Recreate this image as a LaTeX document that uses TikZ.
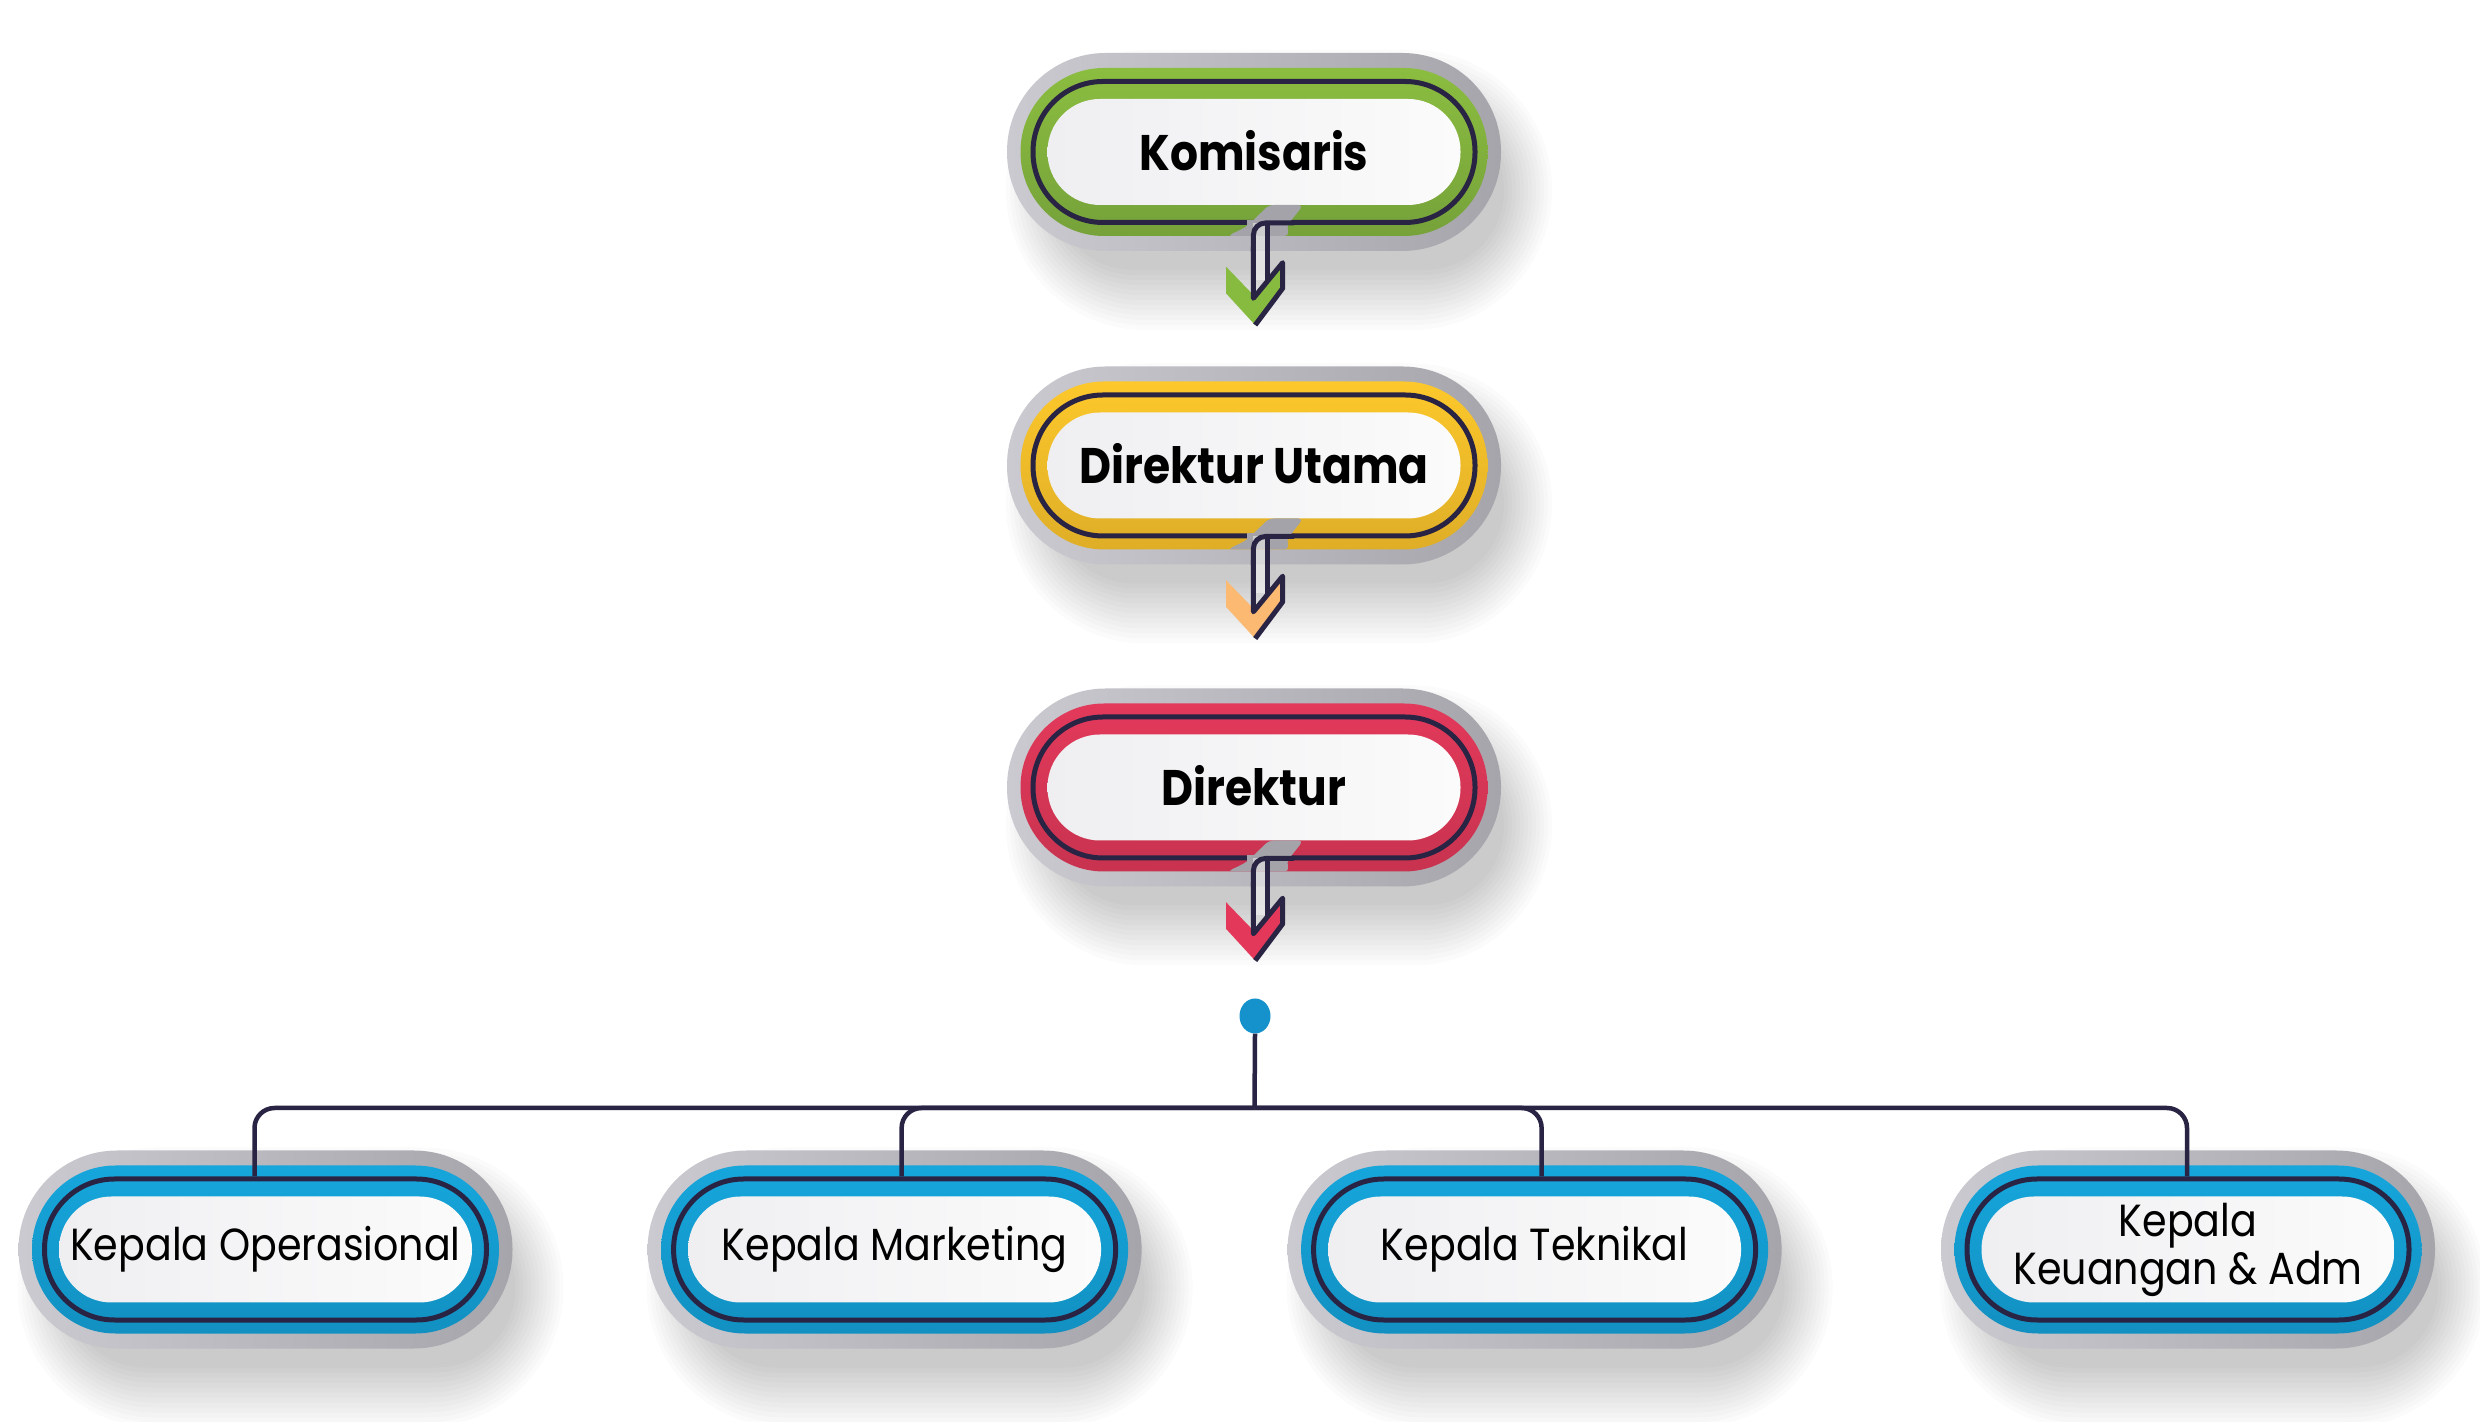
\documentclass[tikz,border=0pt]{standalone}
\usepackage{fontspec}
\setmainfont{Poppins}[FakeStretch=0.88]
\usetikzlibrary{shapes.geometric}
\definecolor{ink}{HTML}{2A2444}
\definecolor{grayL}{HTML}{CBCAD0}
\definecolor{grayR}{HTML}{A6A5AB}
\definecolor{gapgray}{HTML}{A4A3A9}
\definecolor{greenT}{HTML}{8BBD40}
\definecolor{greenB}{HTML}{76A23A}
\definecolor{yellowT}{HTML}{FCC82B}
\definecolor{yellowB}{HTML}{DFAE27}
\definecolor{redT}{HTML}{E3395B}
\definecolor{redB}{HTML}{C8334F}
\definecolor{blueT}{HTML}{16A6DC}
\definecolor{blueB}{HTML}{1290C1}
\definecolor{arrowG}{HTML}{86BB40}
\definecolor{arrowY}{HTML}{FBB972}
\definecolor{arrowR}{HTML}{E3385A}
\definecolor{dotblue}{HTML}{1592CC}
\definecolor{whiteL}{HTML}{EFEFF2}
\definecolor{whiteR}{HTML}{FBFBFB}
\newcommand\topfont{\fontsize{50}{56}\selectfont\bfseries}
\newcommand\botfont{\fontsize{45}{48}\selectfont}
\tikzset{
  outerpill/.style={rectangle, inner sep=0pt, minimum width=494pt, minimum height=198pt,
    rounded corners=98.5pt, left color=grayL, right color=grayR},
  bandpill/.style={rectangle, inner sep=0pt, minimum width=467pt, minimum height=168pt, rounded corners=83.5pt},
  ringpill/.style={rectangle, inner sep=0pt, minimum width=442pt, minimum height=141pt, rounded corners=70pt,
    draw=ink, line width=5pt},
  innerpill/.style={rectangle, inner sep=0pt, minimum width=413pt, minimum height=106pt, rounded corners=52.5pt,
    left color=whiteL, right color=whiteR, align=center, text=black},
  darkline/.style={draw=ink, line width=5pt},
  busline/.style={draw=ink, line width=4.5pt},
  shadowlayer/.style={fill=black, opacity=0.016},
}
% soft shadow under a pill centred at (#1,#2)
\newcommand\PillShadow[2]{%
  \foreach \k in {0,...,12}{%
    \pgfmathsetmacro\hw{225+4*\k}%
    \pgfmathsetmacro\hh{80+5*\k}%
    \fill[shadowlayer, rounded corners=\hh pt-0.5pt]
      (#1+25-\hw,#2-38-\hh) rectangle (#1+25+\hw,#2-38+\hh);
  }%
}
\newcommand\TopPill[6]{%
  \node[outerpill] (#1) at (1254,#2) {};
  \node[bandpill, top color=#3, bottom color=#4] (#1-band) at (#1.center) {};
  \node[ringpill] (#1-ring) at (#1.center) {};
  \node[innerpill, font=\topfont] (#1-text) at (#1.center) {\raisebox{4pt}{#5}};
  \begin{scope}[shift={(#1.center)}]
    \fill[gapgray, rounded corners=5pt] (15,-53) -- (49.4,-53) -- (32.2,-74.7) -- (35.6,-84) -- (-26.4,-84) -- (-7.4,-74.7) -- cycle;
    \fill[gapgray] (-7.4,-74) rectangle (14,-68);
    \fill[#6] (-28,-114.7) -- (1,-144.7) -- (29,-109.7) -- (29,-136.3) -- (1,-173) -- (-28,-141.3) -- cycle;
    \fill[white, opacity=0.45] (-0.6,-71) rectangle (13.2,-128);
    \draw[darkline, rounded corners=12pt] (40,-71) -- (-0.6,-71) -- (-0.6,-100);
    \draw[darkline, line join=round] (-0.6,-95) -- (-0.6,-146.3) -- (28.7,-110.7) -- (28.7,-136.3) -- (1.2,-173);
    \draw[darkline] (13.2,-71) -- (13.2,-129);
  \end{scope}
}
\newcommand\BotPill[3]{%
  \node[outerpill] (#1) at (#2,171.5) {};
  \node[bandpill, top color=blueT, bottom color=blueB] (#1-band) at (#1.center) {};
  \node[ringpill] (#1-ring) at (#1.center) {};
  \node[innerpill, font=\botfont] (#1-text) at (#1.center) {#3};
}
\begin{document}
\begin{tikzpicture}[x=1pt,y=1pt]
  \fill[white] (0,0) rectangle (2480,1421);
  \useasboundingbox (0,0) rectangle (2480,1421);
  \PillShadow{1254}{1269}
  \PillShadow{1254}{955.5}
  \PillShadow{1254}{633.5}
  \PillShadow{265.5}{171.5}
  \PillShadow{894.6}{171.5}
  \PillShadow{1534.6}{171.5}
  \PillShadow{2188}{171.5}
  \TopPill{kom}{1269}{greenT}{greenB}{Komisaris}{arrowG}
  \TopPill{du}{955.5}{yellowT}{yellowB}{Direktur Utama}{arrowY}
  \TopPill{dir}{633.5}{redT}{redB}{Direktur}{arrowR}
  \BotPill{op}{265.5}{Kepala Operasional}
  \BotPill{mk}{894.6}{Kepala Marketing}
  \BotPill{tk}{1534.6}{Kepala Teknikal}
  \BotPill{ku}{2188}{Kepala\\Keuangan \& Adm}
  \node[ellipse, fill=dotblue, inner sep=0pt, minimum width=31pt, minimum height=35pt] (dot) at (1255,405) {};
  \coordinate (hub) at (1254.5,313);
  \draw[busline] (dot.south) -- (hub);
  \draw[busline, rounded corners=20pt] (hub) -| ([xshift=-11pt]op-ring.north);
  \draw[busline, rounded corners=20pt] (hub) -| ([xshift=7pt]mk-ring.north);
  \draw[busline, rounded corners=20pt] (hub) -| ([xshift=7pt]tk-ring.north);
  \draw[busline, rounded corners=20pt] (hub) -| ([xshift=-1pt]ku-ring.north);
\end{tikzpicture}
\end{document}
